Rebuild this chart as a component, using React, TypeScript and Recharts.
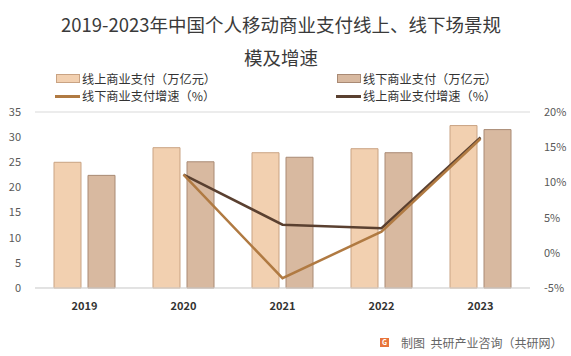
import { Bar, CartesianGrid, ComposedChart, Line, XAxis, YAxis } from 'recharts';

const years = ['2019', '2020', '2021', '2022', '2023'];
const onlineScale = [25.0, 27.9, 26.9, 27.7, 32.3];
const offlineScale = [22.4, 25.1, 26.0, 26.9, 31.5];
const offlineGrowth = [null, 11.1, -3.6, 3.0, 16.2];
const onlineGrowth = [null, 11.1, 4.0, 3.5, 16.4];
const leftTicks = [0, 5, 10, 15, 20, 25, 30, 35];
const rightTicks = [-5, 0, 5, 10, 15, 20];

const data = years.map((year, i) => ({
  year,
  online: onlineScale[i],
  offline: offlineScale[i],
  offGrowth: offlineGrowth[i],
  onGrowth: onlineGrowth[i],
}));

const FONT = '"Microsoft YaHei", "Noto Sans CJK SC", "Noto Sans", sans-serif';
const ONLINE_FILL = '#F2D0B0';
const ONLINE_STROKE = '#C9A383';
const OFFLINE_FILL = '#D8B9A0';
const OFFLINE_STROKE = '#A98A74';
const LIGHT_LINE = '#B07A42';
const DARK_LINE = '#5A4030';

function LegendItem({ x, cy, kind, color, border, label }: {
  x: number; cy: number; kind: 'box' | 'line'; color: string; border?: string; label: string;
}) {
  return (
    <div style={{ position: 'absolute', left: x, top: cy - 6, display: 'flex', alignItems: 'center', height: 12 }}>
      {kind === 'box' ? (
        <span style={{ width: 24, height: 9, background: color, border: `1px solid ${border}`, boxSizing: 'border-box' }} />
      ) : (
        <span style={{ width: 25, height: 3, background: color }} />
      )}
      <span style={{ marginLeft: 2, fontSize: 12.2, lineHeight: '12px', color: '#333', whiteSpace: 'nowrap' }}>{label}</span>
    </div>
  );
}

export default function App() {
  return (
    <div style={{ position: 'absolute', left: 0, top: 0, width: 571, height: 356, background: '#fff', fontFamily: FONT, overflow: 'hidden' }}>
      <div style={{ position: 'absolute', left: 0, width: 562, top: 8, textAlign: 'center', fontSize: 18.5, lineHeight: '33px', color: '#3a3a3a' }}>
        2019-2023年中国个人移动商业支付线上、线下场景规
        <br />
        模及增速
      </div>
      <LegendItem x={56} cy={78.5} kind="box" color={ONLINE_FILL} border={ONLINE_STROKE} label="线上商业支付（万亿元）" />
      <LegendItem x={337} cy={78.5} kind="box" color={OFFLINE_FILL} border={OFFLINE_STROKE} label="线下商业支付（万亿元）" />
      <LegendItem x={55} cy={96} kind="line" color={LIGHT_LINE} label="线下商业支付增速（%）" />
      <LegendItem x={336} cy={96} kind="line" color={DARK_LINE} label="线上商业支付增速（%）" />

      <div style={{ position: 'absolute', left: 0, top: 0 }}>
        <ComposedChart
          width={571}
          height={356}
          data={data}
          margin={{ top: 112, right: 0, bottom: 38, left: 0 }}
          barSize={27}
          barGap={7}
        >
          <CartesianGrid vertical={false} stroke="#D9D9D9" />
          <XAxis
            dataKey="year"
            axisLine={{ stroke: '#D9D9D9' }}
            tickLine={false}
            height={30}
            tick={{ fontSize: 11, fontWeight: 700, fill: '#333', fontFamily: FONT }}
            tickMargin={8}
          />
          <YAxis
            yAxisId="left"
            width={35}
            domain={[0, 35]}
            ticks={leftTicks}
            axisLine={false}
            tickLine={false}
            tick={{ fontSize: 11, fill: '#595959', fontFamily: FONT }}
            tickMargin={8}
          />
          <YAxis
            yAxisId="right"
            orientation="right"
            width={41}
            domain={[-5, 20]}
            ticks={rightTicks}
            axisLine={false}
            tickLine={false}
            tickFormatter={(v: number) => `${v}%`}
            tick={{ fontSize: 11, fill: '#595959', fontFamily: FONT }}
            tickMargin={8}
          />
          <Bar yAxisId="left" dataKey="online" fill={ONLINE_FILL} stroke={ONLINE_STROKE} strokeWidth={1} isAnimationActive={false} />
          <Bar yAxisId="left" dataKey="offline" fill={OFFLINE_FILL} stroke={OFFLINE_STROKE} strokeWidth={1} isAnimationActive={false} />
          <Line yAxisId="right" dataKey="onGrowth" stroke={DARK_LINE} strokeWidth={2.5} dot={false} type="linear" connectNulls={false} isAnimationActive={false} />
          <Line yAxisId="right" dataKey="offGrowth" stroke={LIGHT_LINE} strokeWidth={2.5} dot={false} type="linear" connectNulls={false} isAnimationActive={false} />
        </ComposedChart>
      </div>

      <div style={{ position: 'absolute', left: 380, top: 334, display: 'flex', alignItems: 'center', fontSize: 12, color: '#666' }}>
        <span style={{ width: 9, height: 9, background: '#E8743B', color: '#fff', fontSize: 7, lineHeight: '9px', textAlign: 'center', fontWeight: 700 }}>G</span>
        <span style={{ marginLeft: 12, whiteSpace: 'nowrap' }}>制图&nbsp;&nbsp;共研产业咨询（共研网）</span>
      </div>
    </div>
  );
}
